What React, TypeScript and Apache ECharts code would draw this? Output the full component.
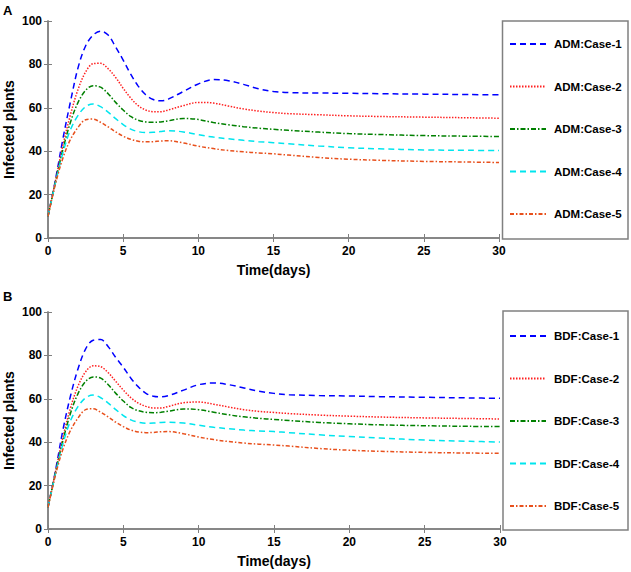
import React, { useEffect, useRef } from "react";
import * as echarts from "echarts";

const times = [0, 0.5, 1, 1.5, 2, 2.5, 3, 3.5, 4, 4.5, 5, 5.5, 6, 6.5, 7, 7.5, 8, 9, 10, 11, 12, 13, 14, 15, 16, 18, 20, 22, 25, 28, 30];

const admCase1 = [10, 27, 46, 63, 78.5, 88.5, 93.5, 95.3, 93.5, 88, 82, 75.5, 70, 66, 63.8, 63.2, 64, 67.5, 71, 73, 72.5, 70.8, 68.8, 67.5, 67, 66.8, 66.7, 66.5, 66.3, 66.1, 66];
const admCase2 = [10, 26.5, 43, 57, 68.5, 76.5, 80.3, 80.5, 78, 74, 69, 64.5, 61, 59, 58.2, 58.2, 59, 61, 62.5, 62.2, 60.8, 59.5, 58.5, 57.8, 57.3, 56.8, 56.3, 56, 55.7, 55.4, 55.2];
const admCase3 = [10, 26, 41, 53.5, 62.5, 68, 70.2, 69.5, 66.5, 62.5, 59, 56, 54.3, 53.5, 53.3, 53.5, 54, 55.1, 54.6, 53.2, 52.2, 51.3, 50.6, 50.1, 49.6, 48.8, 48.1, 47.7, 47.2, 46.9, 46.8];
const admCase4 = [10, 25.5, 39.5, 50, 56.5, 60.5, 61.8, 60.5, 58, 55, 52.3, 50.2, 49, 48.6, 48.7, 49.1, 49.4, 48.9, 47.6, 46.5, 45.7, 45, 44.4, 43.9, 43.4, 42.4, 41.6, 41.1, 40.6, 40.4, 40.3];
const admCase5 = [10, 25, 37, 45.5, 51, 54.5, 54.8, 53.3, 51.2, 48.9, 46.9, 45.5, 44.6, 44.3, 44.4, 44.7, 44.8, 43.8, 42.3, 41.2, 40.3, 39.7, 39.2, 38.8, 38.2, 37.1, 36.3, 35.8, 35.3, 35, 34.8];

const bdfCase1 = [10, 27, 46, 61.5, 74, 83, 87, 87.3, 84, 79, 74.5, 69.5, 65.5, 62.5, 61.2, 60.9, 61.5, 64, 66.5, 67.3, 66.5, 65, 63.5, 62.5, 61.9, 61.5, 61.3, 61, 60.7, 60.4, 60.2];
const bdfCase2 = [10, 26.5, 42.5, 56, 66, 72.5, 75.2, 74.8, 72, 68, 64, 60.5, 58, 56.5, 55.8, 55.8, 56.5, 58.2, 58.5, 57.5, 56.2, 55, 54.2, 53.7, 53.2, 52.5, 52, 51.6, 51.2, 50.9, 50.7];
const bdfCase3 = [10, 26, 41, 53.5, 62.5, 68, 70.1, 69.5, 66.5, 62.5, 59, 56, 54.5, 53.8, 53.6, 53.8, 54.3, 55.3, 55, 53.8, 52.6, 51.7, 51, 50.5, 50, 49.1, 48.5, 48, 47.6, 47.3, 47.2];
const bdfCase4 = [10, 25.5, 39.5, 50, 56.5, 60.5, 61.7, 60.5, 58, 55, 52.3, 50.3, 49.2, 48.7, 48.8, 49.1, 49.2, 48.8, 47.8, 46.9, 46.2, 45.6, 45.2, 44.9, 44.4, 43.4, 42.6, 41.9, 41, 40.4, 40.1];
const bdfCase5 = [10, 25, 37, 45.5, 51.2, 55, 55.4, 53.8, 51.6, 49.2, 47.2, 45.6, 44.7, 44.4, 44.5, 44.8, 44.9, 43.9, 42.4, 41.2, 40.3, 39.6, 39.1, 38.7, 38.2, 37.1, 36.3, 35.8, 35.3, 35, 34.9];

const admNames = ["ADM:Case-1", "ADM:Case-2", "ADM:Case-3", "ADM:Case-4", "ADM:Case-5"];
const bdfNames = ["BDF:Case-1", "BDF:Case-2", "BDF:Case-3", "BDF:Case-4", "BDF:Case-5"];
const xTicks = { min: 0, max: 30, interval: 5 };
const yTicks = { min: 0, max: 100, interval: 20 };

const colors = ["#0000FF", "#FF2020", "#008000", "#00E5EE", "#E8501C"];
const dashes: any[] = [[6, 4], [1.5, 1.5], [5, 2, 1.5, 2], [6, 4], [4, 2, 1.5, 2]];

const FONT = "Arial, 'Liberation Sans', sans-serif";
const AX = "#808080";

export default function App() {
  const ref = useRef<HTMLDivElement>(null);
  useEffect(() => {
    document.body.style.margin = "0";
    const chart = echarts.init(ref.current!, undefined, { renderer: "svg" });
    const grids = [
      { left: 48, top: 21, width: 451, height: 217, containLabel: false, outerBoundsMode: "none" },
      { left: 48, top: 312, width: 452, height: 217, containLabel: false, outerBoundsMode: "none" },
    ];
    const xAxes: any[] = [];
    const yAxes: any[] = [];
    [0, 1].forEach((g) => {
      xAxes.push({
        type: "value", gridIndex: g, ...xTicks, position: "bottom",
        name: "Time(days)", nameLocation: "middle", nameGap: 25, nameMoveOverlap: false,
        nameTextStyle: { fontFamily: FONT, fontWeight: "bold", fontSize: 14, color: "#000" },
        axisLine: { show: true, lineStyle: { color: AX, width: 1.5 } },
        axisTick: { show: true, inside: true, length: 4, lineStyle: { color: AX } },
        axisLabel: { fontFamily: FONT, fontWeight: "bold", fontSize: 12, color: "#000", margin: 7 },
        splitLine: { show: false },
      });
      xAxes.push({
        type: "value", gridIndex: g, ...xTicks, position: "top",
        axisLine: { show: true, lineStyle: { color: AX, width: 1.5 } },
        axisTick: { show: true, inside: true, length: 4, lineStyle: { color: AX } },
        axisLabel: { show: false }, splitLine: { show: false },
      });
      yAxes.push({
        type: "value", gridIndex: g, ...yTicks, position: "left",
        name: "Infected plants", nameLocation: "middle", nameGap: 32, nameMoveOverlap: false,
        nameTextStyle: { fontFamily: FONT, fontWeight: "bold", fontSize: 14, color: "#000" },
        axisLine: { show: true, lineStyle: { color: AX, width: 1.5 } },
        axisTick: { show: true, inside: true, length: 4, lineStyle: { color: AX } },
        axisLabel: { fontFamily: FONT, fontWeight: "bold", fontSize: 12, color: "#000", margin: 6 },
        splitLine: { show: false },
      });
      yAxes.push({
        type: "value", gridIndex: g, ...yTicks, position: "right",
        axisLine: { show: true, lineStyle: { color: AX, width: 1.5 } },
        axisTick: { show: true, inside: true, length: 4, lineStyle: { color: AX } },
        axisLabel: { show: false }, splitLine: { show: false },
      });
    });
    const admVals = [admCase1, admCase2, admCase3, admCase4, admCase5];
    const bdfVals = [bdfCase1, bdfCase2, bdfCase3, bdfCase4, bdfCase5];
    const series: any[] = [];
    [admVals, bdfVals].forEach((vals, g) => {
      const names = g === 0 ? admNames : bdfNames;
      vals.forEach((v, i) => {
        series.push({
          type: "line", name: names[i], xAxisIndex: g * 2, yAxisIndex: g * 2,
          data: times.map((t, k) => [t, v[k]]), symbol: "none", smooth: 0.35,
          lineStyle: { color: colors[i], width: 1.5, type: dashes[i] },
          itemStyle: { color: colors[i] },
        });
      });
    });
    const legendCommon = {
      orient: "vertical", left: 504, itemWidth: 36, itemHeight: 14, itemGap: 30.5,
      itemStyle: { opacity: 0 },
      textStyle: { fontFamily: FONT, fontWeight: "bold", fontSize: 11.5, color: "#000", padding: [0, 0, 0, 3] },
    };
    chart.setOption({
      animation: false,
      backgroundColor: "#fff",
      grid: grids,
      xAxis: xAxes,
      yAxis: yAxes,
      series,
      legend: [
        { ...legendCommon, top: 33, data: admNames },
        { ...legendCommon, top: 325, data: bdfNames },
      ],
      graphic: [
        { type: "rect", shape: { x: 502.5, y: 21, width: 125.5, height: 218 }, style: { fill: "none", stroke: AX, lineWidth: 1.5 } },
        { type: "rect", shape: { x: 503, y: 311, width: 125, height: 219 }, style: { fill: "none", stroke: AX, lineWidth: 1.5 } },
        { type: "text", x: 3, y: 4, style: { text: "A", fontFamily: FONT, fontWeight: "bold", fontSize: 13, fill: "#000" } },
        { type: "text", x: 3, y: 290, style: { text: "B", fontFamily: FONT, fontWeight: "bold", fontSize: 13, fill: "#000" } },
      ],
    });
    return () => chart.dispose();
  }, []);
  return <div ref={ref} style={{ width: 631, height: 572 }} />;
}
